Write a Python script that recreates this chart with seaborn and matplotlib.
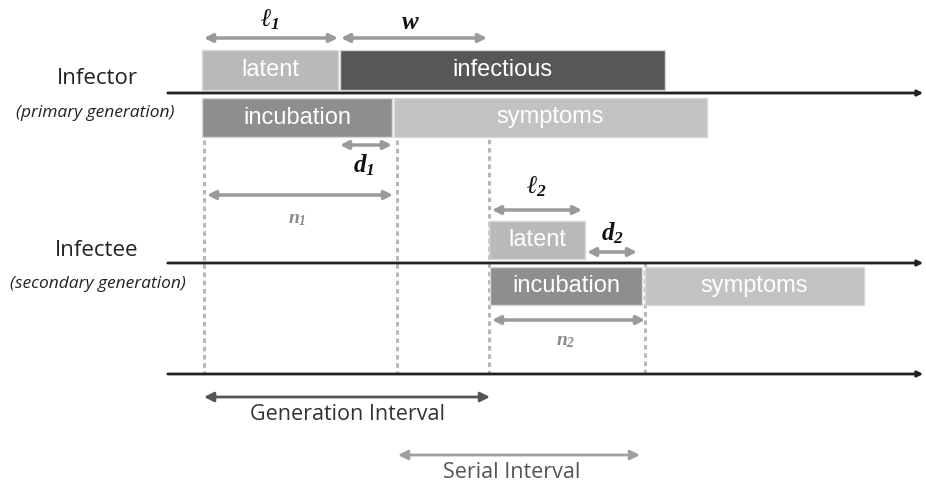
import matplotlib
matplotlib.use("Agg")
import matplotlib.pyplot as plt
import seaborn as sns

# phases drawn as horizontal bars (timeline in pixel-like units)
phase_names = ["latent", "infectious", "incubation", "symptoms", "latent", "incubation", "symptoms"]
phase_start = [202, 340, 202, 394, 489, 490, 645]
phase_end = [338, 665, 392, 707, 585, 642, 864]
phase_row = ["inf_top", "inf_top", "inf_bot", "inf_bot", "sec_top", "sec_bot", "sec_bot"]

# key event times
event_times = [204, 397, 489, 645]
event_top = [140, 140, 98, 262]

# interval arrows: (label, start, end)
arrow_labels = ["l1", "w", "d1", "n1", "l2", "d2", "n2"]
arrow_start = [204, 341, 340, 207, 492, 587, 492]
arrow_end = [338, 487, 392, 393, 582, 637, 645]

interval_names = ["Generation Interval", "Serial Interval"]
interval_start = [204, 398]
interval_end = [490, 640]

sns.set_theme(style="white")
plt.rcParams["mathtext.fontset"] = "custom"
plt.rcParams["mathtext.it"] = "Liberation Serif:italic:bold"
plt.rcParams["mathtext.rm"] = "Liberation Serif:italic:bold"

fig = plt.figure(figsize=(9.26, 4.87), dpi=100)
ax = fig.add_axes([0, 0, 1, 1])
ax.set_xlim(0, 926)
ax.set_ylim(487, 0)
ax.axis("off")

rows = {"inf_top": (50, 40), "inf_bot": (98, 39), "sec_top": (221, 38), "sec_bot": (267, 38)}
colors = {"latent": "#b9b9b9", "infectious": "#575757", "incubation": "#8e8e8e", "symptoms": "#c2c2c2"}

# vertical dashed guides
for x, top in zip(event_times, event_top):
    ax.plot([x, x], [top, 374], color="#b8b8b8", lw=2.2, ls=(0, (1.5, 1.2)), zorder=1)

# bars
for name, s, e, r in zip(phase_names, phase_start, phase_end, phase_row):
    y0, h = rows[r]
    ax.barh(y0 + h / 2, e - s, left=s, height=h, color=colors[name],
            edgecolor="#d8d8d8", linewidth=1, zorder=2)
    ax.text((s + e) / 2, y0 + h / 2, name, color="white", fontsize=17,
            family="Liberation Sans", ha="center", va="center", zorder=3)

# time axes
for y in [93, 263, 374]:
    ax.annotate("", xy=(926, y), xytext=(165, y),
                arrowprops=dict(arrowstyle="-|>", color="#222222", lw=2, mutation_scale=8),
                zorder=4)

# interval arrows with symbols
arrow_y = [38, 38, 145, 195, 210, 252, 320]
label_pos = [(270, 20), (410, 22), (364, 165), (297, 218), (537, 187), (612, 233), (566, 340)]
tex = {"l1": r"$\ell_1$", "w": r"$w$", "d1": r"$d_1$", "n1": r"$n_1$",
       "l2": r"$\ell_2$", "d2": r"$d_2$", "n2": r"$n_2$"}
for lab, s, e, y, (lx, ly) in zip(arrow_labels, arrow_start, arrow_end, arrow_y, label_pos):
    ax.annotate("", xy=(e, y), xytext=(s, y),
                arrowprops=dict(arrowstyle="<|-|>", color="#9a9a9a", lw=2.5,
                                mutation_scale=12, shrinkA=0, shrinkB=0), zorder=5)
    small = lab.startswith("n")
    ax.text(lx, ly, tex[lab], fontsize=14 if small else 18,
            color="#8a8a8a" if small else "#111111", ha="center", va="center")

# generation / serial interval
for name, s, e, col, txtcol, y in zip(interval_names, interval_start, interval_end,
                                      ["#555555", "#a0a0a0"], ["#333333", "#555555"], [397, 455]):
    ax.annotate("", xy=(e, y), xytext=(s, y),
                arrowprops=dict(arrowstyle="<|-|>", color=col, lw=2,
                                mutation_scale=14, shrinkA=0, shrinkB=0))
    ax.text((s + e) / 2 + (0 if name.startswith("Gen") else -7), y + 17, name,
            fontsize=15.5, color=txtcol, family="Open Sans", ha="center", va="center")

# row labels
ax.text(97, 78, "Infector", fontsize=16, family="Open Sans", color="#222222", ha="center", va="center")
ax.text(95, 113, "(primary generation)", fontsize=12.5, style="italic", family="Open Sans",
        color="#222222", ha="center", va="center")
ax.text(97, 250, "Infectee", fontsize=16, family="Open Sans", color="#222222", ha="center", va="center")
ax.text(98, 284, "(secondary generation)", fontsize=12.5, style="italic", family="Open Sans",
        color="#222222", ha="center", va="center")

fig.savefig("out.png", dpi=100)
